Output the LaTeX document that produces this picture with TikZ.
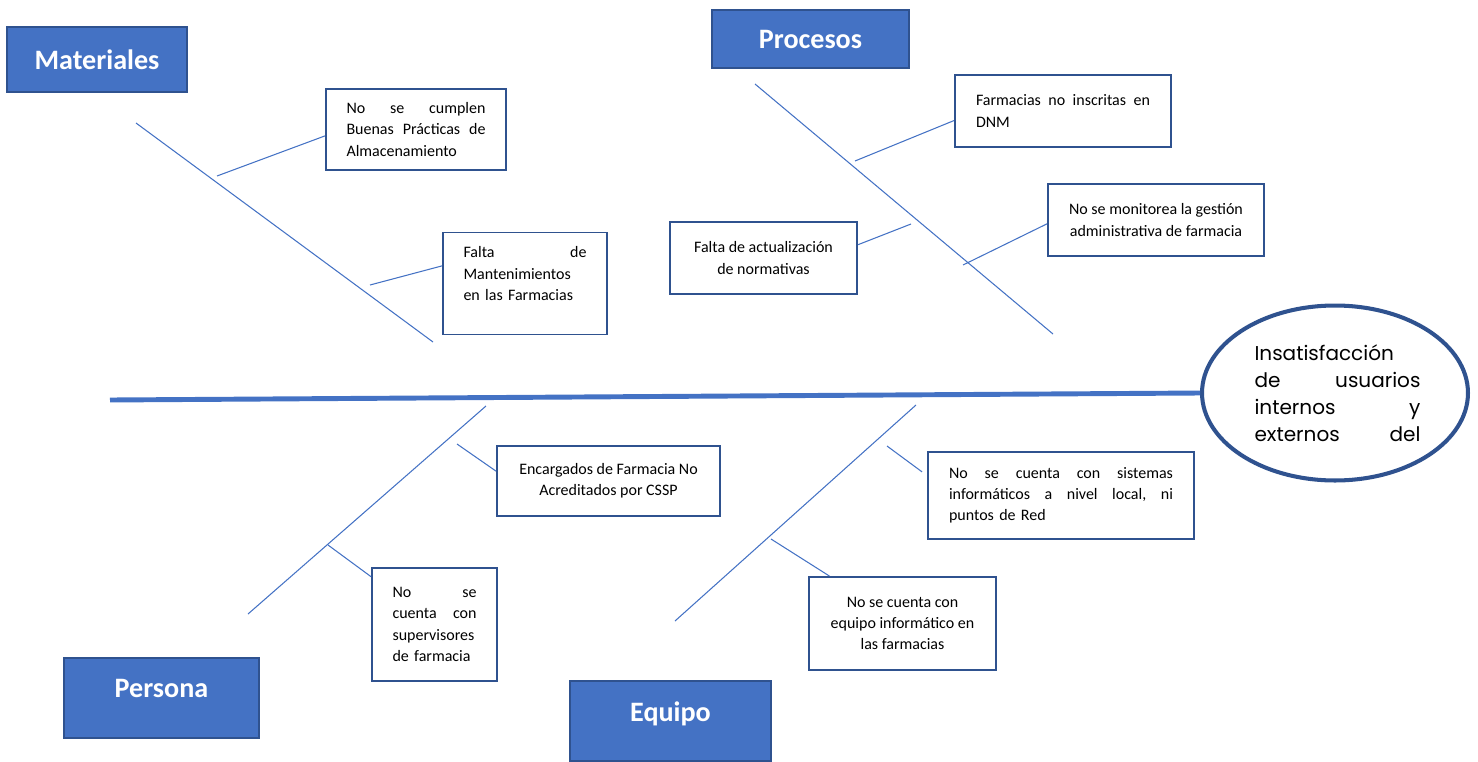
\documentclass[tikz,border=0pt]{standalone}
\usepackage{fontspec}
\setmainfont{Carlito}
\newfontfamily\gothicfont{Poppins}
\usetikzlibrary{shapes.geometric,calc}
\definecolor{ishB}{HTML}{4472C4}
\definecolor{ishD}{HTML}{2F528F}
\tikzset{
  bone/.style={ishB, line width=0.6pt},
  spine/.style={ishB, line width=2.8pt},
  twig/.style={ishB, line width=0.6pt},
  catbox/.style={draw=ishD, fill=ishB, line width=1.1pt, inner sep=0pt, text=white, font=\fontsize{16}{19}\selectfont\bfseries},
  causebox/.style={draw=ishD, fill=white, line width=1.1pt, inner sep=0pt, font=\fontsize{9.1}{12.1}\selectfont},
  effect/.style={ellipse, draw=ishD, fill=white, line width=2.3pt, inner sep=0pt, font=\gothicfont\fontsize{11.4}{15.3}\selectfont},
}

\begin{document}
\begin{tikzpicture}[x=0.02cm,y=-0.02cm]
\useasboundingbox (0,0) rectangle (1478,761);

% ---- effect and spine ------------------------------------------------------
\node[effect, minimum width=5.32cm, minimum height=3.5cm] (eff) at (1335,393)
  {\hspace*{0.1cm}\raisebox{-0.08cm}{\parbox{3.32cm}{Insatisfacción\\ de\hfill usuarios\\ internos\hfill y\\ externos\hfill del}}};
\coordinate (tail) at (110,400);
\draw[spine] (tail) -- (eff.west);

% ---- categories ------------------------------------------------------------
\node[catbox, minimum width=3.6cm, minimum height=1.3cm] (mat) at (97,59.5) {Materiales};
\node[catbox, minimum width=3.94cm, minimum height=1.16cm] (pro) at (810.5,39) {Procesos};
\node[catbox, minimum width=3.9cm, minimum height=1.6cm, text depth=0.38cm] (per) at (161.5,698) {Persona};
\node[catbox, minimum width=4.02cm, minimum height=1.6cm, text depth=0.38cm] (equ) at (670.5,721) {Equipo};

% ---- bones -----------------------------------------------------------------
\coordinate (matA) at (136,123);  \coordinate (matB) at (433,342);
\coordinate (proA) at (755,84);   \coordinate (proB) at (1053,334);
\coordinate (perA) at (248,614);  \coordinate (perB) at (486,406);
\coordinate (equA) at (675,621);  \coordinate (equB) at (916,405);
\draw[bone] (matA) -- (matB);
\draw[bone] (proA) -- (proB);
\draw[bone] (perA) -- (perB);
\draw[bone] (equA) -- (equB);

% ---- causes ----------------------------------------------------------------
\node[causebox, minimum width=3.6cm, minimum height=1.62cm, text width=2.78cm, align=left] (c1) at (416,129.5)
  {No\hfill se\hfill cumplen\\ Buenas\hfill Prácticas\hfill de\\ Almacenamiento};
\node[causebox, minimum width=3.28cm, minimum height=2.04cm, text width=2.46cm, align=left, text depth=1.25cm] (c2) at (525,283.5)
  {Falta\hfill de\\ Mantenimientos\\ en las Farmacias};
\node[causebox, minimum width=4.32cm, minimum height=1.44cm, text width=3.48cm, align=left] (c3) at (1063,111)
  {Farmacias\hfill no\hfill inscritas\hfill en\\ DNM};
\node[causebox, minimum width=3.74cm, minimum height=1.44cm, align=center] (c4) at (763.5,258)
  {Falta de actualización\\ de normativas};
\node[causebox, minimum width=4.32cm, minimum height=1.44cm, align=center] (c5) at (1156,220)
  {No se monitorea la gestión\\ administrativa de farmacia};
\node[causebox, minimum width=4.46cm, minimum height=1.4cm, align=center] (c6) at (608.5,481)
  {Encargados de Farmacia No\\ Acreditados por CSSP};
\node[causebox, minimum width=2.5cm, minimum height=2.26cm, text width=1.68cm, align=left] (c7) at (434.5,624.5)
  {No\hfill se\\ cuenta\hfill con\\ supervisores\\ de farmacia};
\node[causebox, minimum width=5.32cm, minimum height=1.74cm, text width=4.48cm, align=left] (c8) at (1061,495.5)
  {No\hfill se\hfill cuenta\hfill con\hfill sistemas\\ informáticos\hfill a\hfill nivel\hfill local,\hfill ni\\ puntos de Red};
\node[causebox, minimum width=3.74cm, minimum height=1.86cm, align=center] (c9) at (902.5,623.5)
  {No se cuenta con\\ equipo informático en\\ las farmacias};

% ---- twigs -----------------------------------------------------------------
\coordinate (t1) at (217,176);
\coordinate (t2) at (370,285);
\coordinate (t3) at (855,161);
\coordinate (t4) at (911,224);
\coordinate (t5) at (963,265);
\coordinate (t6) at (457,444);
\coordinate (t7) at (328,545);
\coordinate (t8) at (887,446);
\coordinate (t9) at (771,539);
\draw[twig] (t1) -- (c1.184);
\draw[twig] (t2) -- (c2.168);
\draw[twig] (t3) -- (c3.185);
\draw[twig] (t4) -- (c4.8);
\draw[twig] (t5) -- (c5.182);
\draw[twig] (t6) -- (c6.175);
\draw[twig] (t7) -- (c7.143);
\draw[twig] (t8) -- ($(c8.170)+(-5,0)$);
\draw[twig] (t9) -- (c9.147);

\end{tikzpicture}
\end{document}
